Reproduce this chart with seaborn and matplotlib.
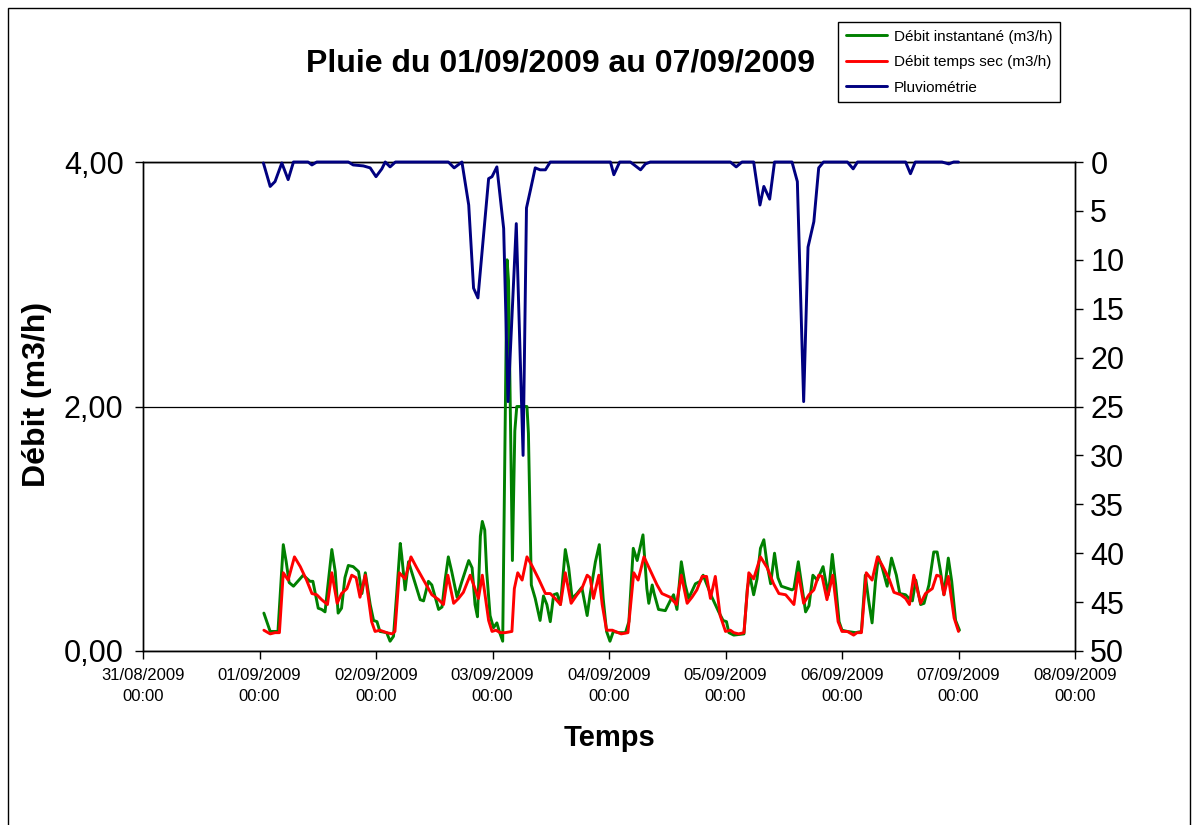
import numpy as np
import pandas as pd
import matplotlib
matplotlib.use("Agg")
import matplotlib.pyplot as plt
from matplotlib.patches import Rectangle
import seaborn as sns

# ---------------- data (hours after 01/09/2009 00:00) ----------------
start_time = "2009-09-01 00:00"

green_hours = [0.9, 2.2, 3.8, 4.9, 5.5, 6.1, 7.0, 9.0, 10.4, 11.0,
               12.1, 12.8, 13.5, 14.9, 15.6, 16.2, 16.9, 17.6, 18.3, 19.3,
               20.4, 21.1, 21.8, 22.8, 23.5, 24.2, 24.8, 26.2, 26.9, 27.6,
               28.3, 29.0, 29.3, 30.0, 30.7, 31.7, 33.1, 33.8, 34.8, 35.5,
               36.9, 37.6, 38.2, 38.9, 39.6, 40.7, 41.7, 43.1, 43.8, 44.4,
               44.9, 45.5, 45.9, 46.4, 46.8, 47.5, 48.2, 48.9, 49.4, 50.1,
               51.0, 51.3, 52.1, 52.6, 53.0, 55.1, 55.4, 56.0, 56.8, 57.8,
               58.5, 59.2, 59.9, 60.6, 61.3, 62.0, 63.0, 63.7, 64.4, 65.4,
               66.4, 67.5, 68.1, 69.2, 70.0, 70.8, 71.5, 72.2, 72.9, 74.0,
               75.4, 76.1, 77.0, 77.8, 79.0, 79.8, 80.2, 80.9, 81.3, 82.2,
               83.6, 84.6, 85.3, 86.0, 86.9, 87.7, 88.4, 89.8, 90.8, 91.4,
               92.2, 93.2, 94.6, 95.5, 96.2, 96.7, 97.7, 99.8, 100.5, 101.0,
               101.8, 102.5, 103.2, 103.9, 104.6, 105.3, 106.1, 106.8, 107.5, 109.7,
               110.1, 111.0, 111.8, 112.5, 113.2, 114.0, 114.9, 116.1, 116.6, 117.2,
               118.0, 118.7, 119.4, 120.0, 121.1, 122.8, 124.0, 124.8, 125.5, 126.2,
               126.9, 127.5, 128.3, 129.3, 130.2, 131.2, 131.9, 133.1, 133.8, 134.5,
               135.2, 136.2, 136.9, 137.9, 138.9, 139.6, 140.3, 141.0, 141.9, 142.6,
               143.4, 144.2]
green_values = [0.31, 0.16, 0.16, 0.87, 0.73, 0.56, 0.53, 0.62, 0.57, 0.57,
                0.35, 0.34, 0.32, 0.83, 0.65, 0.31, 0.35, 0.60, 0.70, 0.69,
                0.65, 0.47, 0.64, 0.38, 0.25, 0.24, 0.16, 0.15, 0.08, 0.12,
                0.49, 0.88, 0.78, 0.50, 0.73, 0.60, 0.42, 0.41, 0.57, 0.54,
                0.34, 0.36, 0.57, 0.77, 0.65, 0.44, 0.57, 0.74, 0.68, 0.38,
                0.28, 0.94, 1.06, 0.99, 0.65, 0.29, 0.19, 0.23, 0.16, 0.08,
                3.20, 3.03, 0.74, 1.80, 2.00, 2.00, 1.78, 0.54, 0.43, 0.25,
                0.45, 0.38, 0.24, 0.46, 0.47, 0.38, 0.83, 0.68, 0.43, 0.47,
                0.52, 0.29, 0.46, 0.73, 0.87, 0.43, 0.16, 0.08, 0.16, 0.15,
                0.15, 0.24, 0.84, 0.74, 0.95, 0.51, 0.39, 0.54, 0.47, 0.34,
                0.33, 0.41, 0.46, 0.34, 0.73, 0.54, 0.43, 0.55, 0.57, 0.62,
                0.54, 0.44, 0.32, 0.25, 0.24, 0.15, 0.13, 0.14, 0.51, 0.62,
                0.46, 0.59, 0.84, 0.91, 0.70, 0.55, 0.80, 0.60, 0.53, 0.50,
                0.51, 0.73, 0.51, 0.32, 0.37, 0.62, 0.58, 0.69, 0.58, 0.46,
                0.79, 0.54, 0.24, 0.17, 0.16, 0.15, 0.16, 0.62, 0.41, 0.23,
                0.57, 0.77, 0.68, 0.53, 0.76, 0.62, 0.47, 0.46, 0.43, 0.41,
                0.58, 0.38, 0.39, 0.54, 0.81, 0.81, 0.65, 0.46, 0.76, 0.57,
                0.25, 0.17]

red_hours = [0.9, 2.2, 3.2, 4.1, 4.9, 5.9, 7.2, 8.4, 9.7, 10.8,
             11.8, 12.8, 14.0, 14.9, 16.0, 16.9, 18.0, 19.0, 19.9, 20.7,
             21.8, 23.1, 23.8, 24.8, 26.2, 27.3, 27.9, 28.8, 30.0, 31.2,
             32.4, 33.8, 35.5, 36.9, 37.9, 38.8, 40.0, 41.0, 42.0, 43.4,
             44.4, 45.1, 45.9, 47.2, 47.9, 48.7, 49.6, 50.6, 52.0, 52.5,
             53.2, 54.1, 55.1, 56.1, 57.5, 58.9, 59.9, 60.9, 62.0, 63.0,
             64.2, 65.4, 66.4, 67.5, 68.1, 68.8, 69.9, 70.6, 71.5, 72.7,
             74.5, 75.9, 77.1, 78.0, 79.2, 80.5, 81.9, 82.9, 84.6, 85.9,
             86.9, 88.1, 89.1, 90.1, 91.2, 92.1, 92.9, 93.9, 94.9, 96.0,
             97.0, 97.7, 98.7, 99.8, 100.8, 101.8, 103.2, 104.6, 105.9, 107.0,
             108.4, 110.1, 111.0, 112.1, 113.2, 114.2, 115.2, 115.9, 116.9, 118.1,
             119.2, 120.0, 121.1, 122.4, 123.1, 124.0, 125.0, 126.2, 127.3, 128.3,
             129.7, 130.7, 132.1, 133.1, 133.9, 134.8, 136.2, 137.2, 138.6, 139.5,
             140.3, 141.0, 141.9, 143.1, 144.0]
red_values = [0.17, 0.14, 0.15, 0.15, 0.64, 0.58, 0.77, 0.69, 0.58, 0.47,
              0.46, 0.42, 0.38, 0.64, 0.39, 0.47, 0.51, 0.62, 0.60, 0.44,
              0.62, 0.24, 0.16, 0.17, 0.15, 0.14, 0.16, 0.64, 0.59, 0.77,
              0.68, 0.58, 0.46, 0.42, 0.38, 0.62, 0.39, 0.43, 0.48, 0.62,
              0.51, 0.43, 0.62, 0.25, 0.16, 0.17, 0.15, 0.15, 0.16, 0.51,
              0.64, 0.58, 0.77, 0.70, 0.59, 0.47, 0.47, 0.43, 0.38, 0.64,
              0.39, 0.46, 0.51, 0.62, 0.60, 0.43, 0.62, 0.38, 0.17, 0.17,
              0.14, 0.15, 0.64, 0.58, 0.77, 0.66, 0.54, 0.47, 0.44, 0.38,
              0.62, 0.39, 0.44, 0.50, 0.61, 0.61, 0.43, 0.61, 0.29, 0.16,
              0.17, 0.15, 0.14, 0.15, 0.64, 0.59, 0.77, 0.68, 0.55, 0.47,
              0.46, 0.38, 0.64, 0.39, 0.46, 0.50, 0.62, 0.61, 0.42, 0.62,
              0.24, 0.16, 0.16, 0.13, 0.15, 0.15, 0.64, 0.58, 0.77, 0.70,
              0.59, 0.48, 0.46, 0.43, 0.38, 0.62, 0.39, 0.47, 0.51, 0.62,
              0.61, 0.46, 0.61, 0.27, 0.16]

rain_hours = [0.8, 2.2, 3.2, 4.6, 5.9, 7.0, 10.0, 10.8, 11.8,
              18.3, 19.3, 21.4, 22.8, 24.0, 25.2, 25.9, 26.9, 28.0, 38.9,
              40.1, 41.7, 43.1, 44.1, 45.0, 47.2, 47.9, 48.9, 50.3, 51.2,
              52.9, 54.3, 55.0, 55.8, 56.8, 57.8, 58.9, 59.9, 72.3, 73.0,
              74.2, 76.4, 78.5, 79.5, 80.5, 97.0, 98.2, 99.4, 101.8, 103.1,
              103.9, 105.1, 106.1, 109.7, 110.8, 112.1, 113.0, 114.2, 115.2, 116.2,
              121.1, 122.3, 123.2, 133.1, 134.1, 135.1, 140.6, 142.0, 143.0, 144.0]
rain_values = [0.1, 2.5, 2.0, 0.1, 1.8, 0, 0, 0.3, 0,
               0, 0.3, 0.4, 0.6, 1.5, 0.7, 0, 0.5, 0, 0,
               0.6, 0, 4.4, 12.9, 13.9, 1.7, 1.5, 0.5, 6.8, 24.5,
               6.3, 30.0, 4.7, 2.9, 0.6, 0.8, 0.8, 0, 0, 1.3,
               0, 0, 0.8, 0.2, 0, 0, 0.5, 0, 0, 4.4,
               2.5, 3.8, 0, 0, 2.0, 24.5, 8.7, 6.1, 0.6, 0,
               0, 0.7, 0, 0, 1.2, 0, 0, 0.2, 0, 0]

series_labels = ["Débit instantané (m3/h)", "Débit temps sec (m3/h)", "Pluviométrie"]
series_colors = ["#008000", "#FF0000", "#000080"]

x_tick_dates = ["2009-08-31", "2009-09-01", "2009-09-02", "2009-09-03", "2009-09-04",
                "2009-09-05", "2009-09-06", "2009-09-07", "2009-09-08"]
x_tick_labels = ["31/08/2009\n00:00", "01/09/2009\n00:00", "02/09/2009\n00:00",
                 "03/09/2009\n00:00", "04/09/2009\n00:00", "05/09/2009\n00:00",
                 "06/09/2009\n00:00", "07/09/2009\n00:00", "08/09/2009\n00:00"]
left_ticks = [0, 2, 4]
left_tick_labels = ["0,00", "2,00", "4,00"]
right_ticks = [0, 5, 10, 15, 20, 25, 30, 35, 40, 45, 50]

title = "Pluie du 01/09/2009 au 07/09/2009"
x_label = "Temps"
y_label = "Débit (m3/h)"

# ---------------- figure ----------------
sns.set_theme(style="white")
plt.rcParams['font.family'] = ['Liberation Sans', 'DejaVu Sans']

W, H = 1196, 825
fig = plt.figure(figsize=(W / 100, H / 100), dpi=100)
fig.patch.set_facecolor("white")

ax = fig.add_axes([143 / W, 1 - 651 / H, (1075 - 143) / W, (651 - 162) / H])

t0 = pd.Timestamp(start_time)


def to_df(hours, values):
    return pd.DataFrame({"t": t0 + pd.to_timedelta(hours, unit="h"), "v": values})


LW = 2.1
sns.lineplot(data=to_df(green_hours, green_values), x="t", y="v", ax=ax,
             color=series_colors[0], lw=LW, estimator=None, sort=False,
             label=series_labels[0], zorder=3)
sns.lineplot(data=to_df(red_hours, red_values), x="t", y="v", ax=ax,
             color=series_colors[1], lw=LW, estimator=None, sort=False,
             label=series_labels[1], zorder=4)

ax2 = ax.twinx()
sns.lineplot(data=to_df(rain_hours, rain_values), x="t", y="v", ax=ax2,
             color=series_colors[2], lw=LW, estimator=None, sort=False,
             label=series_labels[2], zorder=5)
for ln in ax2.get_lines():
    ln.set_clip_on(False)

for a in (ax, ax2):
    if a.get_legend() is not None:
        a.get_legend().remove()
    a.set_xlabel("")
    a.set_ylabel("")

ax.set_xlim(pd.Timestamp(x_tick_dates[0]), pd.Timestamp(x_tick_dates[-1]))
ax.set_ylim(0, 4)
ax2.set_ylim(50, 0)

ax.set_xticks(pd.to_datetime(x_tick_dates), x_tick_labels, linespacing=1.55)
ax.set_yticks(left_ticks, left_tick_labels)
ax2.set_yticks(right_ticks, [str(v) for v in right_ticks])

ax.yaxis.grid(True, color="black", lw=0.9)
ax.xaxis.grid(False)
ax2.grid(False)

for a in (ax, ax2):
    for s in a.spines.values():
        s.set_color("black")
        s.set_linewidth(1.0)
        s.set_visible(True)

ax.tick_params(axis="x", bottom=True, direction="out", length=6, width=1,
               color="black", labelsize=12, pad=6, labelcolor="black")
ax.tick_params(axis="y", left=True, direction="out", length=6, width=1,
               color="black", labelsize=22, pad=8, labelcolor="black")
ax2.tick_params(axis="y", right=True, left=False, direction="out", length=6, width=1,
                color="black", labelsize=22, pad=5, labelcolor="black")

# texts
fig.text(560 / W, 1 - 63 / H, title, ha="center", va="center",
         fontsize=23, fontweight="bold", color="black")
fig.text(37 / W, 1 - 394 / H, y_label, ha="center", va="center", rotation=90,
         fontsize=23, fontweight="bold", color="black")
fig.text(610 / W, 1 - 738 / H, x_label, ha="center", va="center",
         fontsize=21, fontweight="bold", color="black")

# legend
handles = ax.get_lines()[:2] + ax2.get_lines()[:1]
leg = fig.legend(handles, series_labels, loc="upper left",
                 bbox_to_anchor=(838 / W, 1 - 22 / H), frameon=True, fancybox=False,
                 edgecolor="black", framealpha=1, fontsize=11, handlelength=2.7,
                 handletextpad=0.45, labelspacing=0.75, borderpad=0.5, borderaxespad=0)
leg.get_frame().set_linewidth(1.0)
for t in leg.get_texts():
    t.set_color("black")

# outer chart border
fig.add_artist(Rectangle((8 / W, -0.05), (1190 - 8) / W, 1 - 8 / H + 0.05,
                         transform=fig.transFigure, fill=False,
                         edgecolor="black", lw=1.0))

fig.savefig("out.png", dpi=100)
